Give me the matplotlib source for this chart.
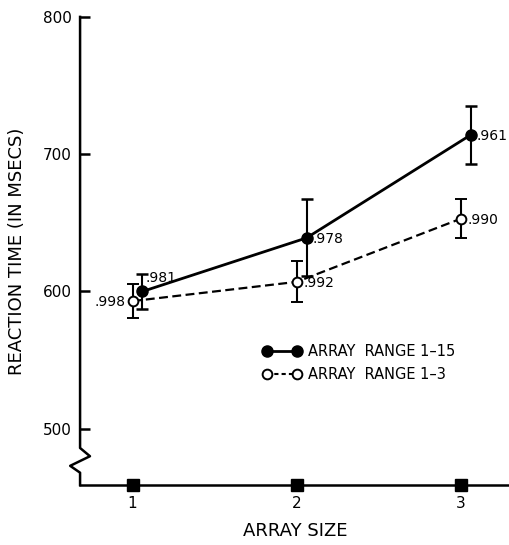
import matplotlib
matplotlib.use('Agg')
import matplotlib.pyplot as plt
import matplotlib.transforms as mtransforms
from matplotlib.lines import Line2D

plt.rcParams['font.family'] = ['DejaVu Sans']

# data
array_size = [1, 2, 3]
rt_range15 = [600, 639, 714]
err_range15 = [13, 28, 21]
r_range15 = ['.981', '.978', '.961']
rt_range3 = [593, 607, 653]
err_range3 = [12.5, 15, 14]
r_range3 = ['.998', '.992', '.990']
yticks = [500, 600, 700, 800]

fig = plt.figure(figsize=(5.1, 5.45), dpi=100)
ax = fig.add_axes([0.157, 0.110, 0.843, 0.859])
ax.set_xlim(0.68, 3.3)
ax.set_ylim(459, 800)

# filled points sit a little to the right of the open ones
x15 = [x + 0.06 for x in array_size]
ax.errorbar(x15, rt_range15, yerr=err_range15, color='black', lw=2,
            marker='o', ms=8, mfc='black', capsize=4, capthick=1.8,
            elinewidth=1.5, clip_on=False, zorder=3)
ax.errorbar(array_size, rt_range3, yerr=err_range3, color='black', lw=1.6,
            ls=(0, (4, 2)), marker='o', ms=7, mfc='white', mew=1.4,
            capsize=4, capthick=1.8, elinewidth=1.5, zorder=3)

# correlation labels
lab = dict(textcoords='offset points', fontsize=10)
ax.annotate(r_range15[0], (x15[0], rt_range15[0]), xytext=(2, 5),
            va='bottom', **lab)
for x, y, s in zip(x15[1:], rt_range15[1:], r_range15[1:]):
    ax.annotate(s, (x, y), xytext=(4, -1), va='center', **lab)
ax.annotate(r_range3[0], (array_size[0], rt_range3[0]), xytext=(-5, -1),
            va='center', ha='right', **lab)
for x, y, s in zip(array_size[1:], rt_range3[1:], r_range3[1:]):
    ax.annotate(s, (x, y), xytext=(5, -1), va='center', **lab)

# axes styling
for side in ['top', 'right', 'left']:
    ax.spines[side].set_visible(False)
ax.spines['bottom'].set_linewidth(1.8)

# y axis drawn by hand so it can carry the break mark
trans = mtransforms.blended_transform_factory(ax.transAxes, ax.transData)
ax.plot([0, 0, 0.023, -0.023, 0, 0], [800, 486, 480, 473, 468, 459],
        color='black', lw=1.8, transform=trans, clip_on=False)

ax.set_yticks(yticks)
ax.set_xticks(array_size)
ax.set_xticklabels(['1', '2', '3'])
ax.tick_params(axis='y', direction='in', length=7, width=1.8, labelsize=11, pad=6)
ax.tick_params(axis='x', length=0, labelsize=11, pad=8)

# square blocks on the x axis
ax.plot(array_size, [459] * 3, ls='none', marker='s', ms=8, color='black',
        clip_on=False, zorder=4)

ax.set_ylabel('REACTION TIME (IN MSECS)', fontsize=13, labelpad=12)
ax.set_xlabel('ARRAY SIZE', fontsize=13, labelpad=8)

handles = [
    Line2D([], [], color='black', lw=2, marker='o', ms=8, mfc='black'),
    Line2D([], [], color='black', lw=1.5, ls=(0, (2, 1.5)), marker='o', ms=7,
           mfc='white', mew=1.4),
]
ax.legend(handles, ['ARRAY  RANGE 1\u201315', 'ARRAY  RANGE 1\u20133'],
          loc='upper left', bbox_to_anchor=(0.395, 0.33), frameon=False,
          numpoints=2, handlelength=2.6, handletextpad=0.5, labelspacing=0.55,
          fontsize=10.5)

fig.savefig('out.png', dpi=100)
